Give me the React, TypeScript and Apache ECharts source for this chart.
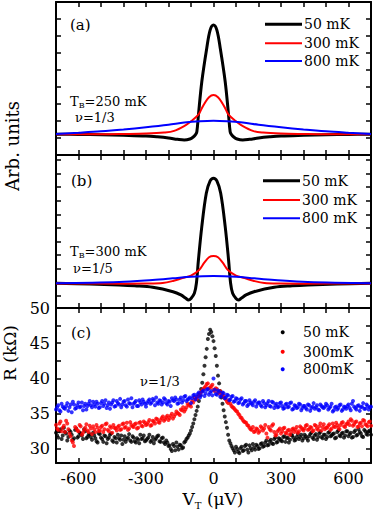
import React, { useEffect, useRef } from "react";
import * as echarts from "echarts";

const FONT = "DejaVu Serif";

// ---------- shared axis ----------
const VT_MIN = -700;
const VT_MAX = 700;
const VT_TICK_STEP = 100;
const VT_LABEL_STEP = 300;

// ---------- panel (a): T_B = 250 mK, nu = 1/3 (arb. units) ----------
const A_50_X = [-700, -600, -500, -400, -300, -250, -200, -160, -130, -105, -90, -80, -74, -67, -52, -30, -15, 0, 15, 30, 52, 67, 74, 80, 90, 105, 130, 160, 200, 250, 300, 400, 500, 600, 700];
const A_50_Y = [0.22, 0.21, 0.19, 0.16, 0.12, 0.07, 0.0, -0.08, -0.12, -0.06, 0.06, 0.2, 0.37, 1.35, 3.31, 5.28, 6.35, 6.65, 6.35, 5.28, 3.31, 1.35, 0.37, 0.2, 0.06, -0.06, -0.12, -0.08, 0.0, 0.07, 0.12, 0.16, 0.19, 0.21, 0.22];
const A_300_X = [-700, -500, -400, -300, -220, -175, -123, -100, -67, -53, -40, -20, 0, 20, 40, 53, 67, 100, 123, 175, 220, 300, 400, 500, 700];
const A_300_Y = [0.22, 0.22, 0.235, 0.26, 0.32, 0.42, 0.76, 0.98, 1.38, 1.72, 2.03, 2.4, 2.53, 2.4, 2.03, 1.72, 1.38, 0.98, 0.76, 0.42, 0.32, 0.26, 0.235, 0.22, 0.22];
const A_800_X = [-700, -600, -500, -400, -300, -200, -130, -60, 0, 60, 130, 200, 300, 400, 500, 600, 700];
const A_800_Y = [0.24, 0.31, 0.39, 0.5, 0.63, 0.78, 0.91, 0.99, 1.02, 0.99, 0.91, 0.78, 0.63, 0.5, 0.39, 0.31, 0.24];

// ---------- panel (b): T_B = 300 mK, nu = 1/5 (arb. units) ----------
const B_50_X = [-700, -550, -420, -350, -270, -180, -145, -123, -111, -100, -85, -76, -67, -52, -32, -15, 0, 15, 32, 52, 67, 76, 85, 100, 111, 123, 145, 180, 270, 350, 420, 550, 700];
const B_50_Y = [0.94, 0.88, 0.81, 0.75, 0.64, 0.32, 0.08, -0.17, -0.29, -0.18, 0.2, 0.94, 2.65, 5.1, 7.55, 8.46, 8.66, 8.46, 7.55, 5.1, 2.65, 0.94, 0.2, -0.18, -0.29, -0.17, 0.08, 0.32, 0.64, 0.75, 0.81, 0.88, 0.94];
const B_300_X = [-700, -400, -300, -226, -180, -138, -100, -64, -41, -20, 0, 20, 41, 64, 100, 138, 180, 226, 300, 400, 700];
const B_300_Y = [0.92, 0.91, 0.92, 0.96, 1.11, 1.32, 1.5, 1.91, 2.45, 2.85, 2.94, 2.85, 2.45, 1.91, 1.5, 1.32, 1.11, 0.96, 0.92, 0.91, 0.92];
const B_800_X = [-700, -419, -271, -182, -100, 0, 100, 182, 271, 419, 700];
const B_800_Y = [0.94, 1.03, 1.18, 1.3, 1.42, 1.47, 1.42, 1.3, 1.18, 1.03, 0.94];

// ---------- panel (c): measured R (kOhm) ----------
// sweep 1: V_T = -700 ... 700 in steps of 10 uV
const C_VT1_START = -700;
// sweep 2: V_T = -695 ... 695 in steps of 10 uV
const C_VT2_START = -695;
const C_VT_STEP = 10;

const R_50MK_1 = [
  32.3, 31.6, 32.8, 31.9, 32.4, 31.2, 32.6, 32.0, 31.5, 32.9, 31.8, 32.2, 31.4, 32.5, 31.7, 32.1,
  31.3, 31.9, 31.1, 32.2, 31.6, 31.0, 31.8, 31.4, 32.0, 31.2, 31.7, 30.9, 31.5, 31.9, 31.3, 31.0, 31.6, 31.2, 31.8, 31.1, 31.5, 30.8, 31.4, 31.9, 31.2,
  31.6, 31.0, 31.7, 31.3, 31.8, 31.1, 31.5, 30.9, 31.2, 30.4,
  30.0, 30.7, 29.8, 30.3, 30.6, 30.1, 30.9, 31.4, 31.9, 32.6,
  33.6, 34.8, 36.0, 37.6, 39.4, 41.8, 44.2, 46.3, 46.6, 45.3,
  43.2, 40.4, 38.2, 36.4, 34.6, 33.0, 31.2, 30.4, 29.8, 30.3,
  29.6, 30.1, 29.7, 30.4, 29.9, 30.5, 29.8, 30.2, 30.6, 30.0,
  30.7, 30.3, 30.9, 30.5, 31.1, 30.8, 31.4, 30.9, 31.5, 31.2,
  31.7, 31.0, 31.6, 31.3, 31.9, 31.2, 31.7, 31.4, 32.0, 31.5,
  31.8, 31.2, 32.1, 31.6, 31.9, 31.3, 32.2, 31.7, 32.0, 31.4,
  32.3, 31.8, 32.1, 31.5, 32.4, 31.9, 32.2, 31.6, 32.5, 31.8,
  32.3, 31.7, 32.6, 32.0, 32.4, 31.8, 32.7, 32.1, 32.5, 32.0,
];
const R_50MK_2 = [
  31.9, 32.5, 31.4, 33.0, 32.2, 31.7, 32.4, 31.3, 32.7, 31.6, 32.3, 31.9, 32.8, 31.5, 32.0,
  31.7, 32.3, 31.5, 30.9, 32.1, 31.4, 31.9, 30.8, 31.6, 32.2, 31.0, 31.5, 32.0, 31.3, 30.7, 31.8, 31.4, 32.1, 31.0, 31.6, 30.9, 31.3, 32.0, 31.5, 31.1,
  31.4, 32.0, 31.2, 30.8, 31.5, 31.9, 31.0, 31.6, 30.7, 30.9,
  30.5, 29.7, 30.4, 30.9, 29.9, 30.5, 30.2, 31.1, 31.6, 32.2,
  33.1, 34.2, 35.4, 36.8, 38.5, 40.6, 43.0, 45.6, 46.9, 46.0,
  44.3, 41.8, 39.3, 37.3, 35.5, 33.8, 32.0, 30.8, 30.1, 29.5,
  30.0, 29.4, 30.3, 29.8, 30.6, 29.5, 30.1, 30.7, 29.9, 30.4,
  30.1, 30.8, 30.4, 31.2, 30.6, 31.3, 30.7, 31.6, 31.0, 31.4,
  31.1, 31.8, 31.5, 30.9, 32.0, 31.6, 31.3, 32.1, 31.7, 31.2,
  32.0, 31.5, 31.8, 32.3, 31.4, 32.1, 31.7, 32.4, 31.5, 32.0,
  31.7, 32.4, 31.9, 32.2, 31.6, 32.6, 31.8, 32.3, 31.9, 32.5,
  32.1, 31.6, 32.4, 31.9, 32.8, 32.2, 31.7, 32.5, 32.0, 32.6,
];
const R_300MK_1 = [
  33.4, 32.7, 33.9, 33.0, 32.4, 33.6, 32.2, 31.2, 30.4, 32.9, 32.5, 33.2, 32.3, 33.0, 32.6, 33.3,
  32.1, 32.8, 33.4, 32.5, 33.1, 32.4, 33.5, 32.7, 33.2, 32.3, 33.0, 32.6, 33.3, 32.8, 33.6, 33.1, 32.7, 33.8, 33.2, 33.5, 32.9, 33.7, 33.3, 33.9, 33.4,
  33.8, 33.3, 34.0, 33.6, 34.2, 33.7, 34.4, 34.0, 34.5, 34.1,
  34.7, 34.3, 34.9, 35.1, 34.8, 35.5, 35.3, 35.9, 36.2, 36.0,
  36.6, 37.0, 37.4, 37.9, 38.3, 38.7, 39.2, 38.6, 38.9, 38.4,
  38.6, 38.0, 38.2, 37.6, 37.2, 36.7, 36.9, 36.1, 35.8, 35.4,
  35.0, 34.5, 34.1, 33.8, 33.4, 33.0, 32.7, 32.4, 32.9, 32.3,
  33.2, 32.6, 33.4, 31.6, 32.8, 33.3, 32.4, 32.0, 32.7, 32.2,
  32.9, 32.3, 32.6, 32.0, 32.8, 32.4, 33.1, 32.5, 33.0, 32.6,
  33.3, 32.7, 33.1, 32.5, 33.4, 32.9, 33.2, 32.6, 33.5, 33.0,
  33.3, 32.7, 33.6, 33.1, 33.4, 32.8, 33.7, 33.2, 33.5, 33.9,
  34.2, 33.3, 33.8, 33.1, 33.6, 33.2, 34.0, 33.4, 33.8, 33.3,
];
const R_300MK_2 = [
  32.9, 33.6, 32.5, 33.3, 34.0, 32.8, 31.8, 30.9, 33.1, 32.6, 33.4, 32.0, 32.7, 33.5, 32.4,
  32.9, 33.2, 32.4, 33.0, 32.6, 33.3, 32.8, 33.6, 32.5, 33.0, 33.4, 32.9, 33.1, 32.7, 33.5, 33.0, 33.7, 32.9, 33.4, 33.1, 33.6, 33.0, 33.8, 33.2, 33.7,
  33.5, 34.1, 33.4, 33.9, 34.3, 33.8, 34.1, 34.6, 34.2, 34.7,
  34.4, 35.0, 34.6, 35.3, 35.0, 35.6, 35.9, 35.6, 36.4, 36.3,
  36.8, 37.3, 37.1, 37.7, 38.1, 38.5, 38.9, 39.3, 38.7, 39.1,
  38.2, 38.5, 37.9, 37.9, 37.5, 37.0, 36.5, 36.4, 35.9, 35.6,
  35.3, 34.8, 34.4, 33.9, 33.7, 33.3, 32.8, 33.1, 32.5, 32.8,
  32.5, 33.0, 32.9, 32.2, 33.1, 32.6, 33.5, 31.9, 32.5, 32.9,
  32.5, 33.0, 32.2, 32.7, 32.4, 32.9, 32.7, 32.3, 33.2, 32.8,
  32.9, 33.4, 32.8, 33.0, 32.6, 33.3, 32.7, 33.6, 33.1, 32.8,
  33.0, 33.5, 32.9, 33.2, 33.7, 33.0, 33.4, 33.8, 33.1, 33.6,
  33.4, 34.0, 33.5, 33.9, 33.2, 33.7, 34.1, 33.5, 33.2, 33.9,
];
const R_800MK_1 = [
  35.6, 36.2, 35.3, 36.0, 35.7, 36.5, 35.9, 35.2, 36.3, 35.8, 36.6, 36.0, 35.5, 36.4, 36.1, 36.8,
  35.9, 36.3, 36.7, 35.8, 36.5, 36.1, 36.9, 36.2, 35.7, 36.6, 36.0, 36.8, 36.3, 35.9, 36.7, 36.2, 37.0, 36.4, 35.9, 36.6, 36.1, 36.9, 36.3, 36.7, 36.0,
  36.8, 36.4, 37.1, 36.2, 36.6, 36.9, 36.3, 37.2, 36.5, 36.8,
  36.1, 36.9, 37.3, 36.4, 37.0, 36.6, 37.4, 36.8, 37.1, 36.5,
  37.6, 37.0, 37.8, 37.3, 38.1, 37.5, 38.4, 37.7, 38.2, 40.0,
  37.8, 38.3, 37.4, 38.0, 37.2, 37.7, 36.9, 37.4, 36.7, 37.2,
  36.5, 37.0, 36.3, 36.8, 36.1, 36.9, 36.4, 36.7, 36.0, 36.6,
  36.2, 36.8, 35.9, 36.5, 36.1, 36.7, 35.8, 36.4, 36.0, 36.6,
  35.7, 36.3, 35.9, 36.5, 35.6, 36.2, 35.8, 36.4, 35.5, 36.1,
  35.8, 36.3, 35.4, 36.0, 35.7, 36.2, 35.5, 36.1, 35.8, 36.4,
  35.6, 36.0, 35.3, 35.9, 35.6, 36.2, 35.4, 36.0, 35.7, 36.3,
  35.5, 36.8, 35.8, 36.1, 35.4, 36.0, 35.7, 36.3, 35.6, 36.0,
];
const R_800MK_2 = [
  35.9, 35.5, 36.4, 35.8, 36.1, 35.4, 36.3, 36.7, 35.7, 36.2, 35.9, 36.6, 36.1, 35.6, 36.4,
  36.2, 36.7, 36.0, 36.4, 35.9, 36.8, 36.4, 35.8, 36.6, 36.3, 36.9, 36.1, 36.5, 37.1, 36.3, 36.8, 36.0, 36.5, 37.2, 36.4, 36.8, 36.1, 36.6, 37.0, 36.4,
  36.5, 37.0, 36.6, 36.9, 37.3, 36.4, 36.8, 36.6, 37.0, 36.3,
  36.7, 37.2, 36.8, 37.0, 36.5, 37.3, 36.9, 37.5, 37.0, 37.3,
  37.2, 37.7, 37.4, 38.0, 37.6, 38.3, 37.9, 38.5, 38.0, 37.6,
  38.4, 37.7, 38.1, 37.5, 37.9, 37.3, 37.6, 37.0, 37.5, 36.8,
  37.1, 36.6, 37.2, 36.5, 36.8, 36.3, 36.6, 36.2, 36.9, 36.4,
  36.6, 36.0, 36.5, 36.2, 36.8, 36.0, 36.6, 36.2, 35.9, 36.5,
  36.1, 35.8, 36.4, 36.0, 36.6, 35.7, 36.1, 35.9, 36.3, 35.8,
  36.1, 35.6, 36.2, 35.8, 36.5, 35.9, 35.6, 36.3, 35.9, 36.0,
  36.2, 35.8, 36.4, 35.5, 36.0, 35.8, 36.3, 35.6, 35.9, 36.1,
  35.8, 36.4, 36.0, 35.6, 36.2, 35.9, 36.5, 35.7, 36.1, 35.9,
];

// ---------- axes / labels ----------
const C_Y_MIN = 28;
const C_Y_MAX = 50;
const C_Y_TICKS = [30, 32.5, 35, 37.5, 40, 42.5, 45, 47.5, 50];
const C_Y_LABELS = [30, 35, 40, 45, 50];
const A_Y_MIN = -1;
const A_Y_MAX = 8;
const B_Y_MIN = -0.88;
const B_Y_MAX = 10.37;
const B_Y_TICKS = [0, 1, 2, 3, 4, 5, 6, 7, 8, 9, 10];

const LEGEND_AB = ["50 mK", "300 mK", "800 mK"];
const LEGEND_C = ["50 mK", "300mK", "800mK"];
const COLORS = ["#000000", "#ff0000", "#0000ff"];

const zip = (xs: number[], ys: number[]) => xs.map((x, i) => [x, ys[i]]);
const sweep = (start: number, ys: number[]) => ys.map((y, i) => [start + i * C_VT_STEP, y]);
const measured = (a: number[], b: number[]) => [...sweep(C_VT1_START, a), ...sweep(C_VT2_START, b)];

function buildOption() {
  const grids = [
    { left: 56, width: 315, top: 2, height: 153 },
    { left: 56, width: 315, top: 155, height: 153 },
    { left: 56, width: 315, top: 308, height: 155 },
  ];
  const axisLine = { show: true, onZero: false, lineStyle: { color: "#000", width: 2 } };
  const tick = { show: true, inside: true, length: 5, lineStyle: { color: "#000", width: 1.5 } };

  const xAxes: any[] = [];
  grids.forEach((_, gi) => {
    ["bottom", "top"].forEach((pos) => {
      const showLabel = gi === 2 && pos === "bottom";
      xAxes.push({
        type: "value",
        gridIndex: gi,
        position: pos,
        min: VT_MIN,
        max: VT_MAX,
        interval: VT_TICK_STEP,
        axisLine,
        axisTick: tick,
        splitLine: { show: false },
        axisLabel: {
          show: showLabel,
          margin: 7,
          color: "#000",
          fontFamily: FONT,
          fontSize: 16,
          formatter: (v: number) => (v % VT_LABEL_STEP === 0 ? String(v) : ""),
        },
      });
    });
  });

  const yAxes: any[] = [];
  const yCfg = [
    { min: A_Y_MIN, max: A_Y_MAX, interval: 1 },
    { min: B_Y_MIN, max: B_Y_MAX, ticks: B_Y_TICKS },
    { min: C_Y_MIN, max: C_Y_MAX, ticks: C_Y_TICKS, labels: C_Y_LABELS },
  ];
  yCfg.forEach((c: any, gi) => {
    ["left", "right"].forEach((pos) => {
      const showLabel = gi === 2 && pos === "left";
      const ax: any = {
        type: "value",
        gridIndex: gi,
        position: pos,
        min: c.min,
        max: c.max,
        axisLine,
        axisTick: c.ticks ? { ...tick, customValues: c.ticks } : tick,
        splitLine: { show: false },
        axisLabel: {
          show: showLabel,
          margin: 6,
          color: "#000",
          fontFamily: FONT,
          fontSize: 16,
          formatter: (v: number) => (v % 5 === 0 ? String(v) : ""),
        },
      };
      if (c.interval) ax.interval = c.interval;
      if (c.labels) ax.axisLabel.customValues = c.labels;
      yAxes.push(ax);
    });
  });

  const line = (name: string, gi: number, xs: number[], ys: number[], color: string, w: number) => ({
    type: "line",
    name,
    xAxisIndex: gi * 2,
    yAxisIndex: gi * 2,
    data: zip(xs, ys),
    smooth: 0.35,
    symbol: "none",
    lineStyle: { color, width: w },
    z: w > 2 ? 3 : 4,
  });
  const scatter = (name: string, data: number[][], color: string) => ({
    type: "scatter",
    name,
    xAxisIndex: 4,
    yAxisIndex: 4,
    data,
    symbolSize: 4,
    itemStyle: { color },
  });

  const series = [
    line(LEGEND_AB[0], 0, A_50_X, A_50_Y, COLORS[0], 3),
    line(LEGEND_AB[1], 0, A_300_X, A_300_Y, COLORS[1], 2),
    line(LEGEND_AB[2], 0, A_800_X, A_800_Y, COLORS[2], 2),
    line(LEGEND_AB[0], 1, B_50_X, B_50_Y, COLORS[0], 3),
    line(LEGEND_AB[1], 1, B_300_X, B_300_Y, COLORS[1], 2),
    line(LEGEND_AB[2], 1, B_800_X, B_800_Y, COLORS[2], 2),
    scatter(LEGEND_C[0], measured(R_50MK_1, R_50MK_2), COLORS[0]),
    scatter(LEGEND_C[1], measured(R_300MK_1, R_300MK_2), COLORS[1]),
    scatter(LEGEND_C[2], measured(R_800MK_1, R_800MK_2), COLORS[2]),
  ];

  const txt = (x: number, y: number, text: string, size: number, extra: any = {}) => ({
    type: "text",
    x,
    y,
    z: 10,
    ...extra,
    style: {
      text,
      fontFamily: FONT,
      fontSize: size,
      fill: "#000",
      verticalAlign: "middle",
      ...(extra.style || {}),
    },
  });
  const subRich = { s: { fontFamily: FONT, fontSize: 8, lineHeight: 8, fill: "#000", verticalAlign: "bottom" } };

  const graphic: any[] = [];
  // legends panels a & b
  const legAB = [
    { x1: 265, x2: 302, ys: [24.3, 43.3, 61] },
    { x1: 263, x2: 300, ys: [180.7, 200, 218.3] },
  ];
  legAB.forEach((lg) => {
    lg.ys.forEach((y, i) => {
      graphic.push({
        type: "line",
        z: 10,
        shape: { x1: lg.x1, y1: y, x2: lg.x2, y2: y },
        style: { stroke: COLORS[i], lineWidth: i === 0 ? 3 : 2 },
      });
      graphic.push(txt(lg.x2 + 2, y, LEGEND_AB[i], 14));
    });
  });
  // legend panel c
  [332.3, 351.7, 369.3].forEach((y, i) => {
    graphic.push({ type: "circle", z: 10, shape: { cx: 282.7, cy: y, r: 2 }, style: { fill: COLORS[i] } });
    graphic.push(txt(303, y, LEGEND_C[i], 14));
  });
  // panel tags
  graphic.push(txt(70, 25, "(a)", 15));
  graphic.push(txt(71, 181, "(b)", 15));
  graphic.push(txt(71, 333, "(c)", 15));
  // annotations
  graphic.push(txt(70, 101, "T{s|B}=250 mK", 13, { style: { rich: subRich, lineHeight: 17 } }));
  graphic.push(txt(75, 117, "ν=1/3", 13));
  graphic.push(txt(70, 251, "T{s|B}=300 mK", 13, { style: { rich: subRich, lineHeight: 17 } }));
  graphic.push(txt(73, 268, "ν=1/5", 13));
  graphic.push(txt(140, 381, "ν=1/3", 13));
  // axis titles
  graphic.push(txt(12, 146, "Arb. units", 18, { rotation: Math.PI / 2, style: { align: "center" } }));
  graphic.push(txt(10, 353, "R (kΩ)", 17, { rotation: Math.PI / 2, style: { align: "center" } }));
  graphic.push(
    txt(213, 499, "V{s|T} (μV)", 17, {
      style: {
        align: "center",
        lineHeight: 22,
        rich: { s: { fontFamily: FONT, fontSize: 10, lineHeight: 10, fill: "#000", verticalAlign: "bottom" } },
      },
    })
  );

  return {
    animation: false,
    backgroundColor: "#fff",
    grid: grids,
    xAxis: xAxes,
    yAxis: yAxes,
    series,
    graphic,
  };
}

export default function App() {
  const ref = useRef<HTMLDivElement>(null);
  useEffect(() => {
    const chart = echarts.init(ref.current!, null, { renderer: "svg" });
    chart.setOption(buildOption() as any);
    return () => chart.dispose();
  }, []);
  return (
    <div
      ref={ref}
      style={{ position: "fixed", left: 0, top: 0, width: 374, height: 517, background: "#fff" }}
    />
  );
}
